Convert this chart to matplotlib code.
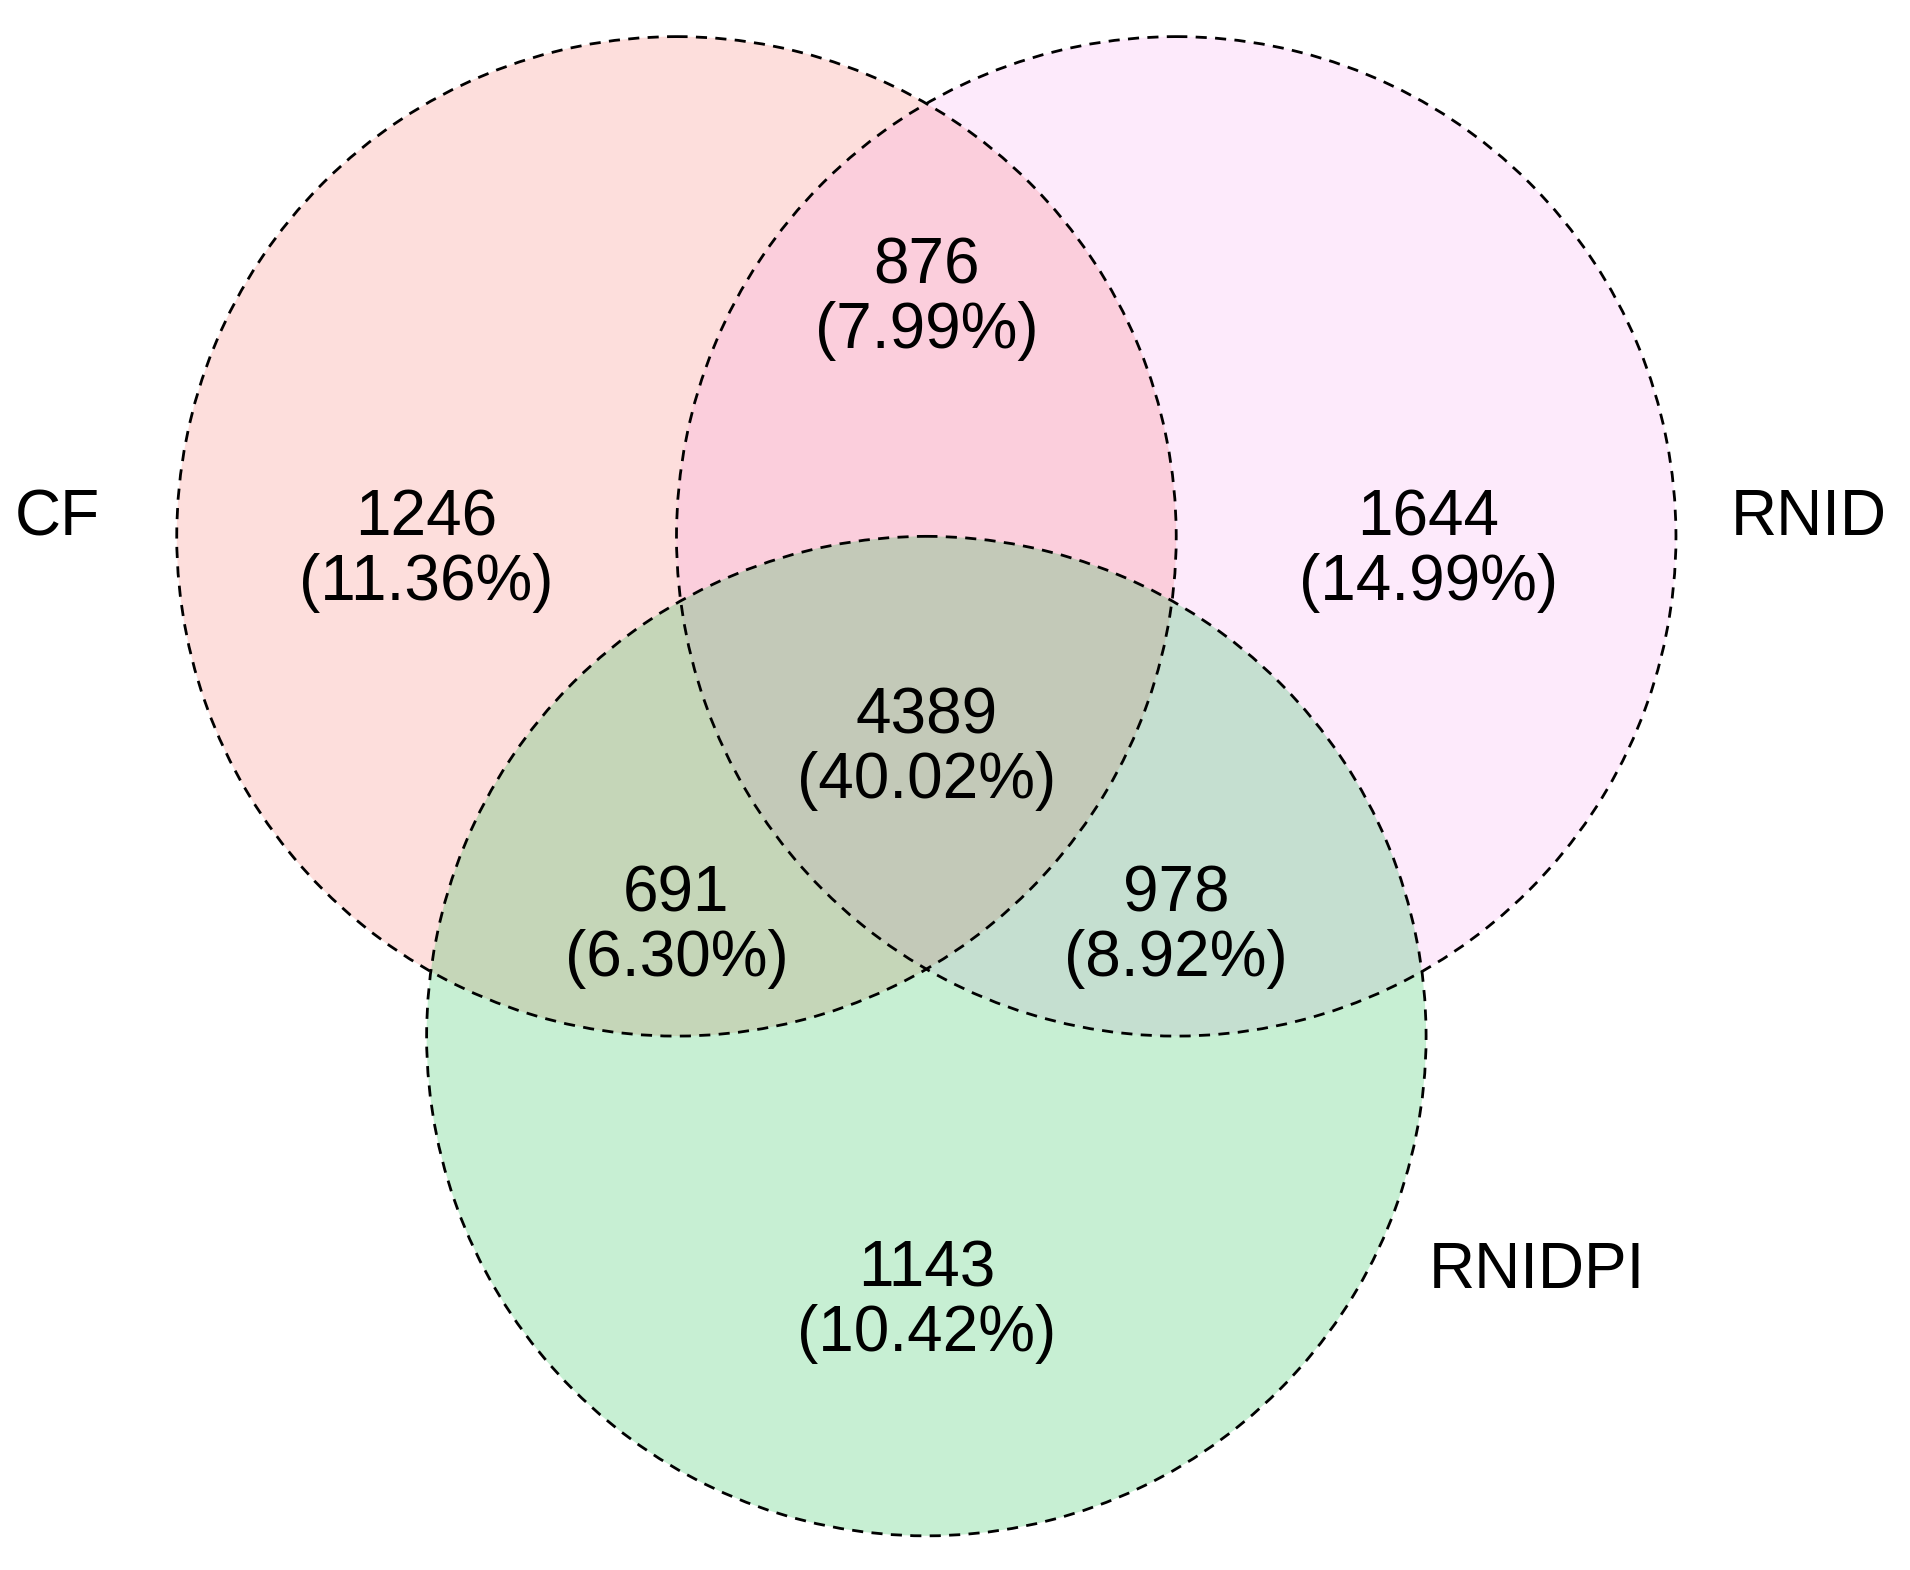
import matplotlib
matplotlib.use("Agg")
import matplotlib.pyplot as plt
from matplotlib.patches import Circle

plt.rcParams['font.family'] = ['Liberation Sans', 'DejaVu Sans']

sets = ["CF", "RNID", "RNIDPI"]
colors = ["#F8766D", "#F564E3", "#00BA38"]
alphas = [0.24, 0.13, 0.22]
regions = ["CF", "RNID", "RNIDPI", "CF&RNID", "CF&RNIDPI", "RNID&RNIDPI", "all"]
counts = [1246, 1644, 1143, 876, 691, 978, 4389]

total = sum(counts)
fig = plt.figure(figsize=(19.10, 15.70), dpi=100)
ax = fig.add_axes([0, 0, 1, 1])
ax.set_xlim(0, 1567)
ax.set_ylim(1288, 0)
ax.set_aspect('equal')
ax.axis('off')

centers = [(555, 440), (965, 440), (760, 850)]
r = 410
for (cx, cy), c, a in zip(centers, colors, alphas):
    ax.add_patch(Circle((cx, cy), r, facecolor=c, alpha=a, edgecolor='none'))
for (cx, cy) in centers:
    ax.add_patch(Circle((cx, cy), r, facecolor='none', edgecolor='black',
                        linestyle=(0, (4, 3)), linewidth=2))

pos = {"CF": (350, 452), "RNID": (1172, 452), "RNIDPI": (760, 1068),
       "CF&RNID": (760, 245), "CF&RNIDPI": (555, 760), "RNID&RNIDPI": (965, 760),
       "all": (760, 614)}
for reg, n in zip(regions, counts):
    x, y = pos[reg]
    ax.text(x, y, f"{n}\n({100*n/total:.2f}%)", ha='center', va='center',
            fontsize=46, linespacing=1.1)

lab = [(12, 425, 'left'), (1420, 425, 'left'), (1172, 1043, 'left')]
for s, (x, y, ha) in zip(sets, lab):
    ax.text(x, y, s, ha=ha, va='center', fontsize=46)

fig.savefig("out.png", dpi=100)
